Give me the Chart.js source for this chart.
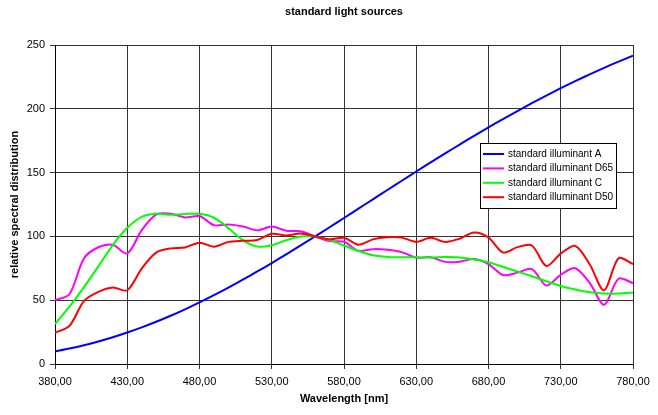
<!DOCTYPE html>
<html>
<head>
<meta charset="utf-8">
<script src="https://cdn.jsdelivr.net/npm/chart.js@4/dist/chart.umd.min.js"></script>
<style>
html,body{margin:0;padding:0;background:#fff;}
#wrap{width:658px;height:415px;position:relative;}
</style>
</head>
<body>
<div id="wrap"><canvas id="c" width="658" height="415"></canvas></div>
<script>
const wavelengths = [380,390,400,410,420,430,440,450,460,470,480,490,500,510,520,530,540,550,560,570,580,590,600,610,620,630,640,650,660,670,680,690,700,710,720,730,740,750,760,770,780];
const illumA = [9.80,12.09,14.71,17.68,20.99,24.67,28.70,33.09,37.81,42.87,48.24,53.91,59.86,66.06,72.50,79.13,85.95,92.91,100.00,107.18,114.44,121.73,129.04,136.35,143.62,150.84,157.98,165.03,171.96,178.77,185.43,191.93,198.26,204.41,210.36,216.12,221.67,227.00,232.12,237.01,241.68];
const illumD65 = [49.98,54.65,82.75,91.49,93.43,86.68,104.86,117.01,117.81,114.86,115.92,108.81,109.35,107.80,104.79,107.69,104.41,104.05,100.00,96.33,95.79,88.69,90.01,89.60,87.70,83.29,83.70,80.03,80.21,82.28,78.28,69.72,71.61,74.35,61.60,69.89,75.09,63.59,46.42,66.81,63.38];
const illumC = [31.34,45.01,60.11,76.54,93.16,106.74,115.38,117.76,116.90,117.57,117.66,114.62,106.46,97.15,92.02,93.07,96.96,99.91,100.00,97.15,92.88,88.51,85.19,83.95,83.67,83.57,83.38,83.76,83.48,81.96,79.77,76.16,72.46,68.76,64.86,61.16,58.40,56.22,55.18,55.27,56.13];
const illumD50 = [24.49,29.87,49.31,56.51,60.03,57.82,74.82,87.25,90.61,91.37,95.11,91.96,95.72,96.61,97.13,102.10,100.75,102.32,100.00,97.74,98.92,93.50,97.69,99.27,99.04,95.72,98.86,95.67,98.19,103.00,99.13,87.38,91.60,92.89,76.85,86.51,92.58,78.23,57.69,82.92,78.27];
const seriesNames = ['standard illuminant A','standard illuminant D65','standard illuminant C','standard illuminant D50'];
const seriesColors = ['#0000ff','#ff00ff','#00ff00','#ff0000'];
const chartTitle = 'standard light sources';
const xTitle = 'Wavelength [nm]';
const yTitle = 'relative spectral distribution';

const FONT = '"Liberation Sans", Arial, sans-serif';
const allSeries = [illumA, illumD65, illumC, illumD50];
const datasets = allSeries.map((vals, i) => ({
  label: seriesNames[i],
  data: wavelengths.map((w, j) => ({x: w, y: vals[j]})),
  borderColor: seriesColors[i],
  backgroundColor: seriesColors[i],
  borderWidth: 2,
  pointRadius: 0,
  tension: 0.3,
  fill: false,
  order: 4 - i
}));

const titleLegendPlugin = {
  id: 'titleLegend',
  afterDraw(chart) {
    const ctx = chart.ctx;
    ctx.save();
    ctx.fillStyle = '#000';
    ctx.font = 'bold 11px ' + FONT;
    ctx.textAlign = 'center';
    ctx.textBaseline = 'middle';
    ctx.fillText(chartTitle, 344, 12);
    const bx = 480.5, by = 143.5, bw = 136, bh = 65;
    ctx.fillStyle = '#fff';
    ctx.fillRect(bx, by, bw, bh);
    ctx.strokeStyle = '#000';
    ctx.lineWidth = 1;
    ctx.strokeRect(bx, by, bw, bh);
    ctx.font = '10px ' + FONT;
    ctx.textAlign = 'left';
    chart.data.datasets.forEach((ds, i) => {
      const y = 154 + i * 14.4;
      ctx.strokeStyle = ds.borderColor;
      ctx.lineWidth = 2;
      ctx.beginPath();
      ctx.moveTo(483, y);
      ctx.lineTo(504, y);
      ctx.stroke();
      ctx.fillStyle = '#000';
      ctx.fillText(ds.label, 508, y);
    });
    ctx.restore();
  }
};

new Chart(document.getElementById('c'), {
  type: 'line',
  data: { datasets },
  options: {
    responsive: false,
    animation: false,
    layout: { padding: { top: 45, right: 25, left: 0, bottom: 0 } },
    plugins: { legend: { display: false }, title: { display: false }, tooltip: { enabled: false } },
    scales: {
      x: {
        type: 'linear',
        min: 380, max: 780,
        afterFit: s => { s.height = 51; },
        ticks: {
          stepSize: 50,
          color: '#000',
          font: { family: FONT, size: 11 },
          padding: 6,
          maxRotation: 0,
          callback: v => v.toFixed(2).replace('.', ',')
        },
        grid: { color: '#333', lineWidth: 1, tickLength: 5, tickColor: '#333' },
        border: { color: '#000', width: 1 },
        title: { display: true, text: xTitle, color: '#000', font: { family: FONT, size: 11, weight: 'bold' }, padding: { top: 0, bottom: 9 } }
      },
      y: {
        min: 0, max: 250,
        afterFit: s => { s.width = 55; },
        ticks: {
          stepSize: 50,
          color: '#000',
          font: { family: FONT, size: 11 },
          padding: 5
        },
        grid: { color: '#333', lineWidth: 1, tickLength: 5, tickColor: '#333' },
        border: { color: '#000', width: 1 },
        title: { display: true, text: yTitle, color: '#000', font: { family: FONT, size: 11, weight: 'bold' }, padding: { top: 8, bottom: 0 } }
      }
    }
  },
  plugins: [titleLegendPlugin]
});
</script>
</body>
</html>
